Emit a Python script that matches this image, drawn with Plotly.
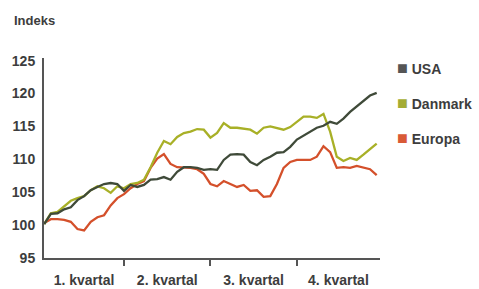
import plotly.graph_objects as go

weeks = list(range(1, 52))

usa = [100.15, 101.7, 101.8, 102.4, 102.7, 103.8, 104.4, 105.3, 105.8, 106.25,
       106.4, 106.25, 105.2, 106.1, 105.8, 106.1, 106.9, 107.0, 107.3, 106.9,
       108.1, 108.8, 108.8, 108.7, 108.4, 108.5, 108.4, 109.9, 110.7, 110.8,
       110.7, 109.6, 109.1, 109.9, 110.4, 111.0, 111.1, 111.9, 113.0, 113.6,
       114.2, 114.8, 115.1, 115.7, 115.4, 116.2, 117.2, 118.0, 118.9, 119.7,
       120.1]

danmark = [100.15, 101.8, 102.0, 102.9, 103.7, 104.1, 104.4, 105.3, 105.9, 105.6,
           104.9, 105.9, 105.6, 106.25, 106.4, 106.9, 108.8, 111.0, 112.8, 112.3,
           113.4, 114.0, 114.2, 114.6, 114.5, 113.3, 114.0, 115.5, 114.8, 114.8,
           114.6, 114.5, 113.9, 114.8, 115.0, 114.8, 114.5, 114.9, 115.7, 116.5,
           116.5, 116.3, 116.9, 114.2, 110.4, 109.75, 110.2, 109.9, 110.7, 111.6,
           112.4]

europa = [100.3, 100.9, 100.9, 100.8, 100.5, 99.4, 99.2, 100.5, 101.2, 101.5,
          103.0, 104.1, 104.7, 105.6, 106.25, 106.7, 108.7, 110.1, 110.8, 109.3,
          108.8, 108.8, 108.7, 108.5, 107.8, 106.25, 105.9, 106.7, 106.25, 105.8,
          106.1, 105.2, 105.3, 104.3, 104.4, 106.25, 108.7, 109.6, 109.9, 109.9,
          109.9, 110.4, 112.0, 111.1, 108.7, 108.8, 108.7, 109.0, 108.8, 108.5,
          107.6]

quarter_bounds = [0.97, 13, 26, 39, 51.5]
quarter_labels = ["1. kvartal", "2. kvartal", "3. kvartal", "4. kvartal"]
y_ticks = [95, 100, 105, 110, 115, 120, 125]

series = [
    ("USA", usa, "#3f4a39", "#555555"),
    ("Danmark", danmark, "#a8b027", "#a3ac35"),
    ("Europa", europa, "#d4502b", "#d95a36"),
]

FONT = "Liberation Sans"
TXT = "#3d3d3d"

fig = go.Figure()
for name, vals, lc, mc in reversed(series):
    fig.add_trace(go.Scatter(x=weeks, y=vals, mode="lines", name=name,
                             line=dict(color=lc, width=2.3), showlegend=False,
                             hoverinfo="skip"))
# legend entries: coloured square glyph drawn as part of the entry text
for name, vals, lc, mc in series:
    fig.add_trace(go.Scatter(
        x=[None], y=[None], mode="markers",
        name=f'<span style="color:{mc};font-size:18px">■</span> {name}',
        marker=dict(symbol="square", size=1, color="rgba(0,0,0,0)"),
        legendgroup=name, showlegend=True))

mids = [(quarter_bounds[i] + quarter_bounds[i + 1]) / 2 for i in range(4)]

fig.update_layout(
    width=479, height=289,
    margin=dict(l=44, r=99, t=58, b=31, autoexpand=False),
    paper_bgcolor="white", plot_bgcolor="white",
    font=dict(family=FONT, size=14, color=TXT),
    xaxis=dict(range=[quarter_bounds[0], quarter_bounds[-1]],
               showgrid=False, zeroline=False, automargin=False,
               showline=True, linecolor="#555555", linewidth=2,
               tickvals=mids, ticktext=quarter_labels, ticks="",
               ticklabelstandoff=8,
               tickfont=dict(family=FONT, size=14, color=TXT, weight="bold"),
               minor=dict(tickvals=quarter_bounds[1:-1], ticks="outside",
                          ticklen=6, tickwidth=2, tickcolor="#555555")),
    yaxis=dict(range=[95, 125.4], tickvals=y_ticks,
               showgrid=False, zeroline=False, automargin=False,
               showline=True, linecolor="#555555", linewidth=2,
               ticks="", ticklabelstandoff=4,
               tickfont=dict(family=FONT, size=14, color=TXT, weight="bold")),
    legend=dict(x=0.9315, y=1.025, xanchor="left", yanchor="top",
                tracegroupgap=14, itemclick=False, itemdoubleclick=False,
                font=dict(family=FONT, size=14, color=TXT, weight="bold"),
                bgcolor="rgba(0,0,0,0)"),
    annotations=[dict(text="Indeks", xref="paper", yref="paper",
                      x=-0.095, y=1.19, xanchor="left", yanchor="middle",
                      showarrow=False,
                      font=dict(family=FONT, size=13, color=TXT, weight="bold"))],
)

fig.write_html("out.html",
               config={"displayModeBar": False},
               post_script="document.body.style.margin='0';"
                           "document.body.style.overflow='hidden';")
